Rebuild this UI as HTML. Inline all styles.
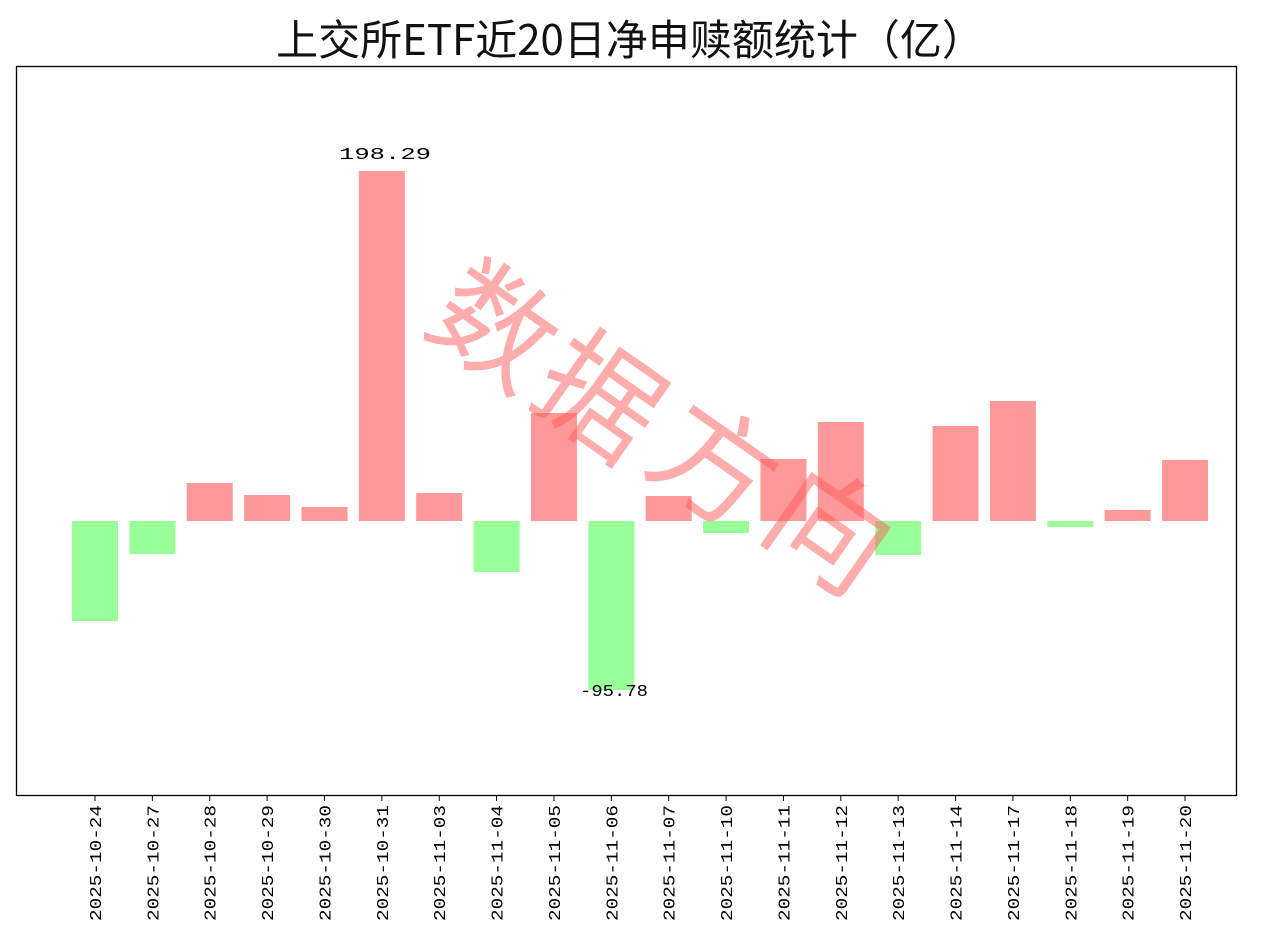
<!DOCTYPE html>
<html><head><meta charset="utf-8"><style>
html,body{margin:0;padding:0;background:#fff;}
svg{display:block;}
</style></head><body>
<svg width="1280" height="939" viewBox="0 0 1280 939" xmlns="http://www.w3.org/2000/svg" font-family="'Liberation Sans','Noto Sans CJK SC',sans-serif">
<rect width="1280" height="939" fill="#fff"/>
<text x="630" y="55" font-size="42" text-anchor="middle" fill="#111" font-family="'Noto Sans CJK SC',sans-serif" font-weight="400">上交所ETF近20日净申赎额统计（亿）</text>
<rect x="16.5" y="66.5" width="1220" height="729" fill="none" stroke="#000" stroke-width="1.3"/>
<g>
<rect x="72" y="521" width="46" height="100" fill="#99ff99"/>
<rect x="129.37" y="521" width="46" height="33" fill="#99ff99"/>
<rect x="186.74" y="483" width="46" height="38" fill="#ff9999"/>
<rect x="244.11" y="495" width="46" height="26" fill="#ff9999"/>
<rect x="301.48" y="507" width="46" height="14" fill="#ff9999"/>
<rect x="358.85" y="171" width="46" height="350" fill="#ff9999"/>
<rect x="416.22" y="493" width="46" height="28" fill="#ff9999"/>
<rect x="473.59" y="521" width="46" height="51" fill="#99ff99"/>
<rect x="530.96" y="413" width="46" height="108" fill="#ff9999"/>
<rect x="588.33" y="521" width="46" height="169" fill="#99ff99"/>
<rect x="645.7" y="496" width="46" height="25" fill="#ff9999"/>
<rect x="703.07" y="521" width="46" height="12" fill="#99ff99"/>
<rect x="760.44" y="459" width="46" height="62" fill="#ff9999"/>
<rect x="817.81" y="422" width="46" height="99" fill="#ff9999"/>
<rect x="875.18" y="521" width="46" height="34" fill="#99ff99"/>
<rect x="932.55" y="426" width="46" height="95" fill="#ff9999"/>
<rect x="989.92" y="401" width="46" height="120" fill="#ff9999"/>
<rect x="1047.29" y="521" width="46" height="6" fill="#99ff99"/>
<rect x="1104.66" y="510" width="46" height="11" fill="#ff9999"/>
<rect x="1162.03" y="460" width="46" height="61" fill="#ff9999"/>
</g>
<g font-size="17" fill="#000" text-anchor="middle" font-family="'Liberation Mono',monospace">
<text x="385" y="159" textLength="92" lengthAdjust="spacingAndGlyphs">198.29</text>
<text x="614" y="696" textLength="68" lengthAdjust="spacingAndGlyphs">-95.78</text>
</g>
<g stroke="#000">
<line x1="95" x2="95" y1="796" y2="801"/><line x1="152.37" x2="152.37" y1="796" y2="801"/><line x1="209.74" x2="209.74" y1="796" y2="801"/><line x1="267.11" x2="267.11" y1="796" y2="801"/><line x1="324.48" x2="324.48" y1="796" y2="801"/><line x1="381.85" x2="381.85" y1="796" y2="801"/><line x1="439.22" x2="439.22" y1="796" y2="801"/><line x1="496.59" x2="496.59" y1="796" y2="801"/><line x1="553.96" x2="553.96" y1="796" y2="801"/><line x1="611.33" x2="611.33" y1="796" y2="801"/><line x1="668.7" x2="668.7" y1="796" y2="801"/><line x1="726.07" x2="726.07" y1="796" y2="801"/><line x1="783.44" x2="783.44" y1="796" y2="801"/><line x1="840.81" x2="840.81" y1="796" y2="801"/><line x1="898.18" x2="898.18" y1="796" y2="801"/><line x1="955.55" x2="955.55" y1="796" y2="801"/><line x1="1012.92" x2="1012.92" y1="796" y2="801"/><line x1="1070.29" x2="1070.29" y1="796" y2="801"/><line x1="1127.66" x2="1127.66" y1="796" y2="801"/><line x1="1185.03" x2="1185.03" y1="796" y2="801"/>
</g>
<g font-size="17" fill="#000" text-anchor="end" font-family="'Liberation Mono',monospace">
<text transform="translate(101,805) rotate(-90)" textLength="116" lengthAdjust="spacingAndGlyphs">2025-10-24</text>
<text transform="translate(158.37,805) rotate(-90)" textLength="116" lengthAdjust="spacingAndGlyphs">2025-10-27</text>
<text transform="translate(215.74,805) rotate(-90)" textLength="116" lengthAdjust="spacingAndGlyphs">2025-10-28</text>
<text transform="translate(273.11,805) rotate(-90)" textLength="116" lengthAdjust="spacingAndGlyphs">2025-10-29</text>
<text transform="translate(330.48,805) rotate(-90)" textLength="116" lengthAdjust="spacingAndGlyphs">2025-10-30</text>
<text transform="translate(387.85,805) rotate(-90)" textLength="116" lengthAdjust="spacingAndGlyphs">2025-10-31</text>
<text transform="translate(445.22,805) rotate(-90)" textLength="116" lengthAdjust="spacingAndGlyphs">2025-11-03</text>
<text transform="translate(502.59,805) rotate(-90)" textLength="116" lengthAdjust="spacingAndGlyphs">2025-11-04</text>
<text transform="translate(559.96,805) rotate(-90)" textLength="116" lengthAdjust="spacingAndGlyphs">2025-11-05</text>
<text transform="translate(617.33,805) rotate(-90)" textLength="116" lengthAdjust="spacingAndGlyphs">2025-11-06</text>
<text transform="translate(674.7,805) rotate(-90)" textLength="116" lengthAdjust="spacingAndGlyphs">2025-11-07</text>
<text transform="translate(732.07,805) rotate(-90)" textLength="116" lengthAdjust="spacingAndGlyphs">2025-11-10</text>
<text transform="translate(789.44,805) rotate(-90)" textLength="116" lengthAdjust="spacingAndGlyphs">2025-11-11</text>
<text transform="translate(846.81,805) rotate(-90)" textLength="116" lengthAdjust="spacingAndGlyphs">2025-11-12</text>
<text transform="translate(904.18,805) rotate(-90)" textLength="116" lengthAdjust="spacingAndGlyphs">2025-11-13</text>
<text transform="translate(961.55,805) rotate(-90)" textLength="116" lengthAdjust="spacingAndGlyphs">2025-11-14</text>
<text transform="translate(1018.92,805) rotate(-90)" textLength="116" lengthAdjust="spacingAndGlyphs">2025-11-17</text>
<text transform="translate(1076.29,805) rotate(-90)" textLength="116" lengthAdjust="spacingAndGlyphs">2025-11-18</text>
<text transform="translate(1133.66,805) rotate(-90)" textLength="116" lengthAdjust="spacingAndGlyphs">2025-11-19</text>
<text transform="translate(1191.03,805) rotate(-90)" textLength="116" lengthAdjust="spacingAndGlyphs">2025-11-20</text>
</g>
<g fill="rgba(255,90,90,0.5)" font-size="120" font-family="'Noto Sans CJK SC',sans-serif" text-anchor="middle">
<text transform="translate(470,362) rotate(35)">数</text>
<text transform="translate(575,432) rotate(35)">据</text>
<text transform="translate(690,500) rotate(35)">方</text>
<text transform="translate(805,565) rotate(35)">向</text>
</g>
</svg>
</body></html>
